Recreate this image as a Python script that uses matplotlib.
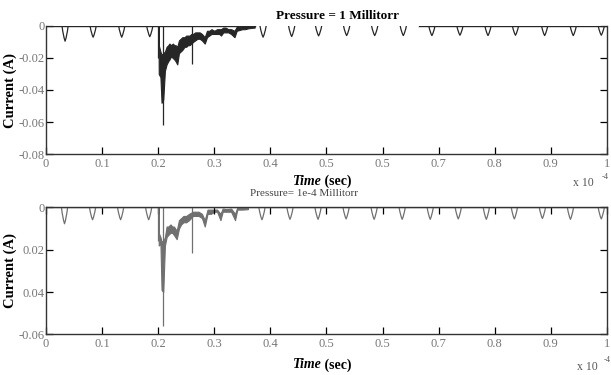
import matplotlib.pyplot as plt
import numpy as np

plt.rcParams['font.family'] = ['Liberation Serif', 'DejaVu Serif']

# positions of the small periodic dips (x in units of 1e-4 s)
dips_top_x = [0.034, 0.084, 0.135, 0.185, 0.387, 0.438, 0.486, 0.536, 0.586,
              0.637, 0.688, 0.738, 0.788, 0.837, 0.889, 0.940, 0.990]
dips_top_d = [-0.0095, -0.0070, -0.0070, -0.0067, -0.0070, -0.0066, -0.0062, -0.0060, -0.0060,
              -0.0060, -0.0060, -0.0058, -0.0060, -0.0058, -0.0060, -0.0060, -0.0058]
dips_bot_x = [0.033, 0.083, 0.133, 0.183, 0.385, 0.435, 0.485, 0.535, 0.585,
              0.635, 0.685, 0.735, 0.785, 0.835, 0.885, 0.935, 0.990]
dips_bot_d = [-0.0077, -0.0058, -0.0058, -0.0058, -0.0058, -0.0056, -0.0056, -0.0054, -0.0056,
              -0.0056, -0.0056, -0.0054, -0.0056, -0.0054, -0.0052, -0.0056, -0.0054]

# discharge band envelopes (x, upper, lower)
band_top_x = [0.2005, 0.201, 0.204, 0.206, 0.209, 0.212, 0.215, 0.218, 0.220, 0.223, 0.226,
              0.229, 0.231, 0.234, 0.237, 0.240, 0.243, 0.247, 0.250, 0.253, 0.256, 0.259,
              0.262, 0.266, 0.270, 0.274, 0.278, 0.283, 0.287, 0.291, 0.295, 0.300, 0.305,
              0.309, 0.312, 0.316, 0.320, 0.325, 0.330, 0.336, 0.340, 0.345, 0.350, 0.355,
              0.360, 0.366, 0.372]
band_top_hi = [0, -0.012, -0.016, -0.018, -0.017, -0.016, -0.013, -0.012, -0.011, -0.012, -0.011,
               -0.012, -0.012, -0.013, -0.009, -0.008, -0.007, -0.007, -0.006, -0.006, -0.006, -0.005,
               -0.005, -0.004, -0.004, -0.004, -0.005, -0.007, -0.003, -0.003, -0.002, -0.003, -0.002,
               -0.002, -0.002, -0.001, -0.001, -0.002, -0.002, -0.003, -0.0005, -0.0008, 0, 0,
               0, 0, 0]
band_top_lo = [0, -0.030, -0.032, -0.048, -0.046, -0.028, -0.024, -0.022, -0.021, -0.019, -0.020,
               -0.021, -0.022, -0.024, -0.017, -0.016, -0.015, -0.013, -0.013, -0.012, -0.012, -0.011,
               -0.010, -0.009, -0.008, -0.008, -0.009, -0.011, -0.007, -0.006, -0.005, -0.005, -0.005,
               -0.005, -0.006, -0.004, -0.004, -0.004, -0.005, -0.007, -0.003, -0.0025, -0.002, -0.002,
               -0.0015, -0.0012, -0.001]
spikes_top_x = [0.2005, 0.208, 0.2605]
spikes_top_y = [-0.020, -0.062, -0.024]

band_bot_x = [0.2005, 0.201, 0.204, 0.206, 0.209, 0.212, 0.215, 0.218, 0.222, 0.225, 0.228,
              0.233, 0.237, 0.241, 0.245, 0.250, 0.255, 0.262, 0.267, 0.272, 0.278, 0.283,
              0.288, 0.294, 0.300, 0.305, 0.311, 0.315, 0.322, 0.330, 0.337, 0.341, 0.350, 0.360]
band_bot_hi = [0, -0.012, -0.014, -0.016, -0.016, -0.014, -0.009, -0.009, -0.008, -0.009, -0.009,
               -0.011, -0.006, -0.005, -0.004, -0.004, -0.003, -0.002, -0.002, -0.002, -0.003, -0.006,
               -0.001, -0.001, -0.001, -0.001, -0.003, -0.0005, -0.0008, -0.0005, -0.003, 0, 0, 0]
band_bot_lo = [0, -0.018, -0.017, -0.039, -0.040, -0.018, -0.014, -0.013, -0.012, -0.012, -0.013,
               -0.015, -0.010, -0.008, -0.007, -0.007, -0.006, -0.004, -0.004, -0.004, -0.005, -0.009,
               -0.003, -0.003, -0.002, -0.002, -0.006, -0.002, -0.002, -0.002, -0.006, -0.001, -0.001,
               -0.0008]
spikes_bot_x = [0.2005, 0.209, 0.261]
spikes_bot_y = [-0.016, -0.056, -0.0216]

xticks = [0, 0.1, 0.2, 0.3, 0.4, 0.5, 0.6, 0.7, 0.8, 0.9, 1.0]
xtick_labels = ['0', '0.1', '0.2', '0.3', '0.4', '0.5', '0.5', '0.7', '0.8', '0.9', '1']
ytop = [0, -0.02, -0.04, -0.06, -0.08]
ytop_labels = ['0', '-0.02', '-0.04', '-0.06', '-0.08']
ybot = [0, -0.02, -0.04, -0.06]
ybot_labels = ['0', '0.02', '0.04', '-0.06']

fig = plt.figure(figsize=(6.11, 3.75), dpi=100)
ax1 = fig.add_axes([0.0753, 0.5893, 0.918, 0.3414])
ax2 = fig.add_axes([0.0753, 0.1085, 0.918, 0.3382])


def draw(ax, dx, dd, bx, bhi, blo, sx, sy, col, base):
    # baseline, periodic dips, discharge band and spikes
    for b0, b1 in base:
        ax.plot([b0, b1], [0, 0], color=col, lw=1.0)
    for c, d in zip(dx, dd):
        w = 0.0055
        ax.plot([c - w, c - w * 0.75, c - w * 0.3, c, c + w * 0.3, c + w * 0.75, c + w],
                [0, d * 0.35, d * 0.8, d, d * 0.8, d * 0.35, 0], color=col, lw=0.9)
    ax.fill_between(bx, bhi, blo, color=col, lw=0.8, edgecolor=col)
    ax.vlines(sx, 0, sy, color=col, lw=0.9)


draw(ax1, dips_top_x, dips_top_d, band_top_x, band_top_hi, band_top_lo,
     spikes_top_x, spikes_top_y, '#262626', [(0, 0.372), (0.665, 1.0)])
draw(ax2, dips_bot_x, dips_bot_d, band_bot_x, band_bot_hi, band_bot_lo,
     spikes_bot_x, spikes_bot_y, '#707070', [(0, 1.0)])

for ax, yt, yl, lo in [(ax1, ytop, ytop_labels, -0.08), (ax2, ybot, ybot_labels, -0.06)]:
    ax.set_xlim(0, 1)
    ax.set_ylim(lo, 0)
    ax.set_xticks(xticks)
    ax.set_xticklabels(xtick_labels)
    ax.set_yticks(yt)
    ax.set_yticklabels(yl)
    ax.tick_params(direction='in', length=5, width=0.9, top=True, right=True,
                   labelsize=9, labelcolor='#777777', pad=3)
    ax.tick_params(axis='y', pad=1)
    for s in ax.spines.values():
        s.set_linewidth(1.0)
        s.set_color('#333333')
    ax.set_ylabel('Current (A)', fontsize=10.5, fontweight='bold', labelpad=1)

ax1.spines['top'].set_visible(False)
ax1.tick_params(axis='x', top=False)

fig.text(0.553, 0.957, 'Pressure = 1 Millitorr', ha='center', va='center',
         fontsize=9.5, fontweight='bold')
fig.text(0.497, 0.484, 'Pressure= 1e-4 Millitorr', ha='center', va='center',
         fontsize=8, color='#444444')
for y in (0.516, 0.027):
    fig.text(0.526, y, 'Time', ha='right', va='center', fontsize=10,
             fontweight='bold', fontstyle='italic')
    fig.text(0.526, y, ' (sec)', ha='left', va='center', fontsize=10,
             fontweight='bold')
fig.text(0.955, 0.512, 'x 10', fontsize=8.5, color='#555555', ha='center', va='center')
fig.text(0.991, 0.527, '-4', fontsize=6, color='#555555', ha='center', va='center')
fig.text(0.962, 0.020, 'x 10', fontsize=8.5, color='#555555', ha='center', va='center')
fig.text(0.994, 0.040, '-4', fontsize=6, color='#555555', ha='center', va='center')

fig.savefig('out.png', dpi=100)
